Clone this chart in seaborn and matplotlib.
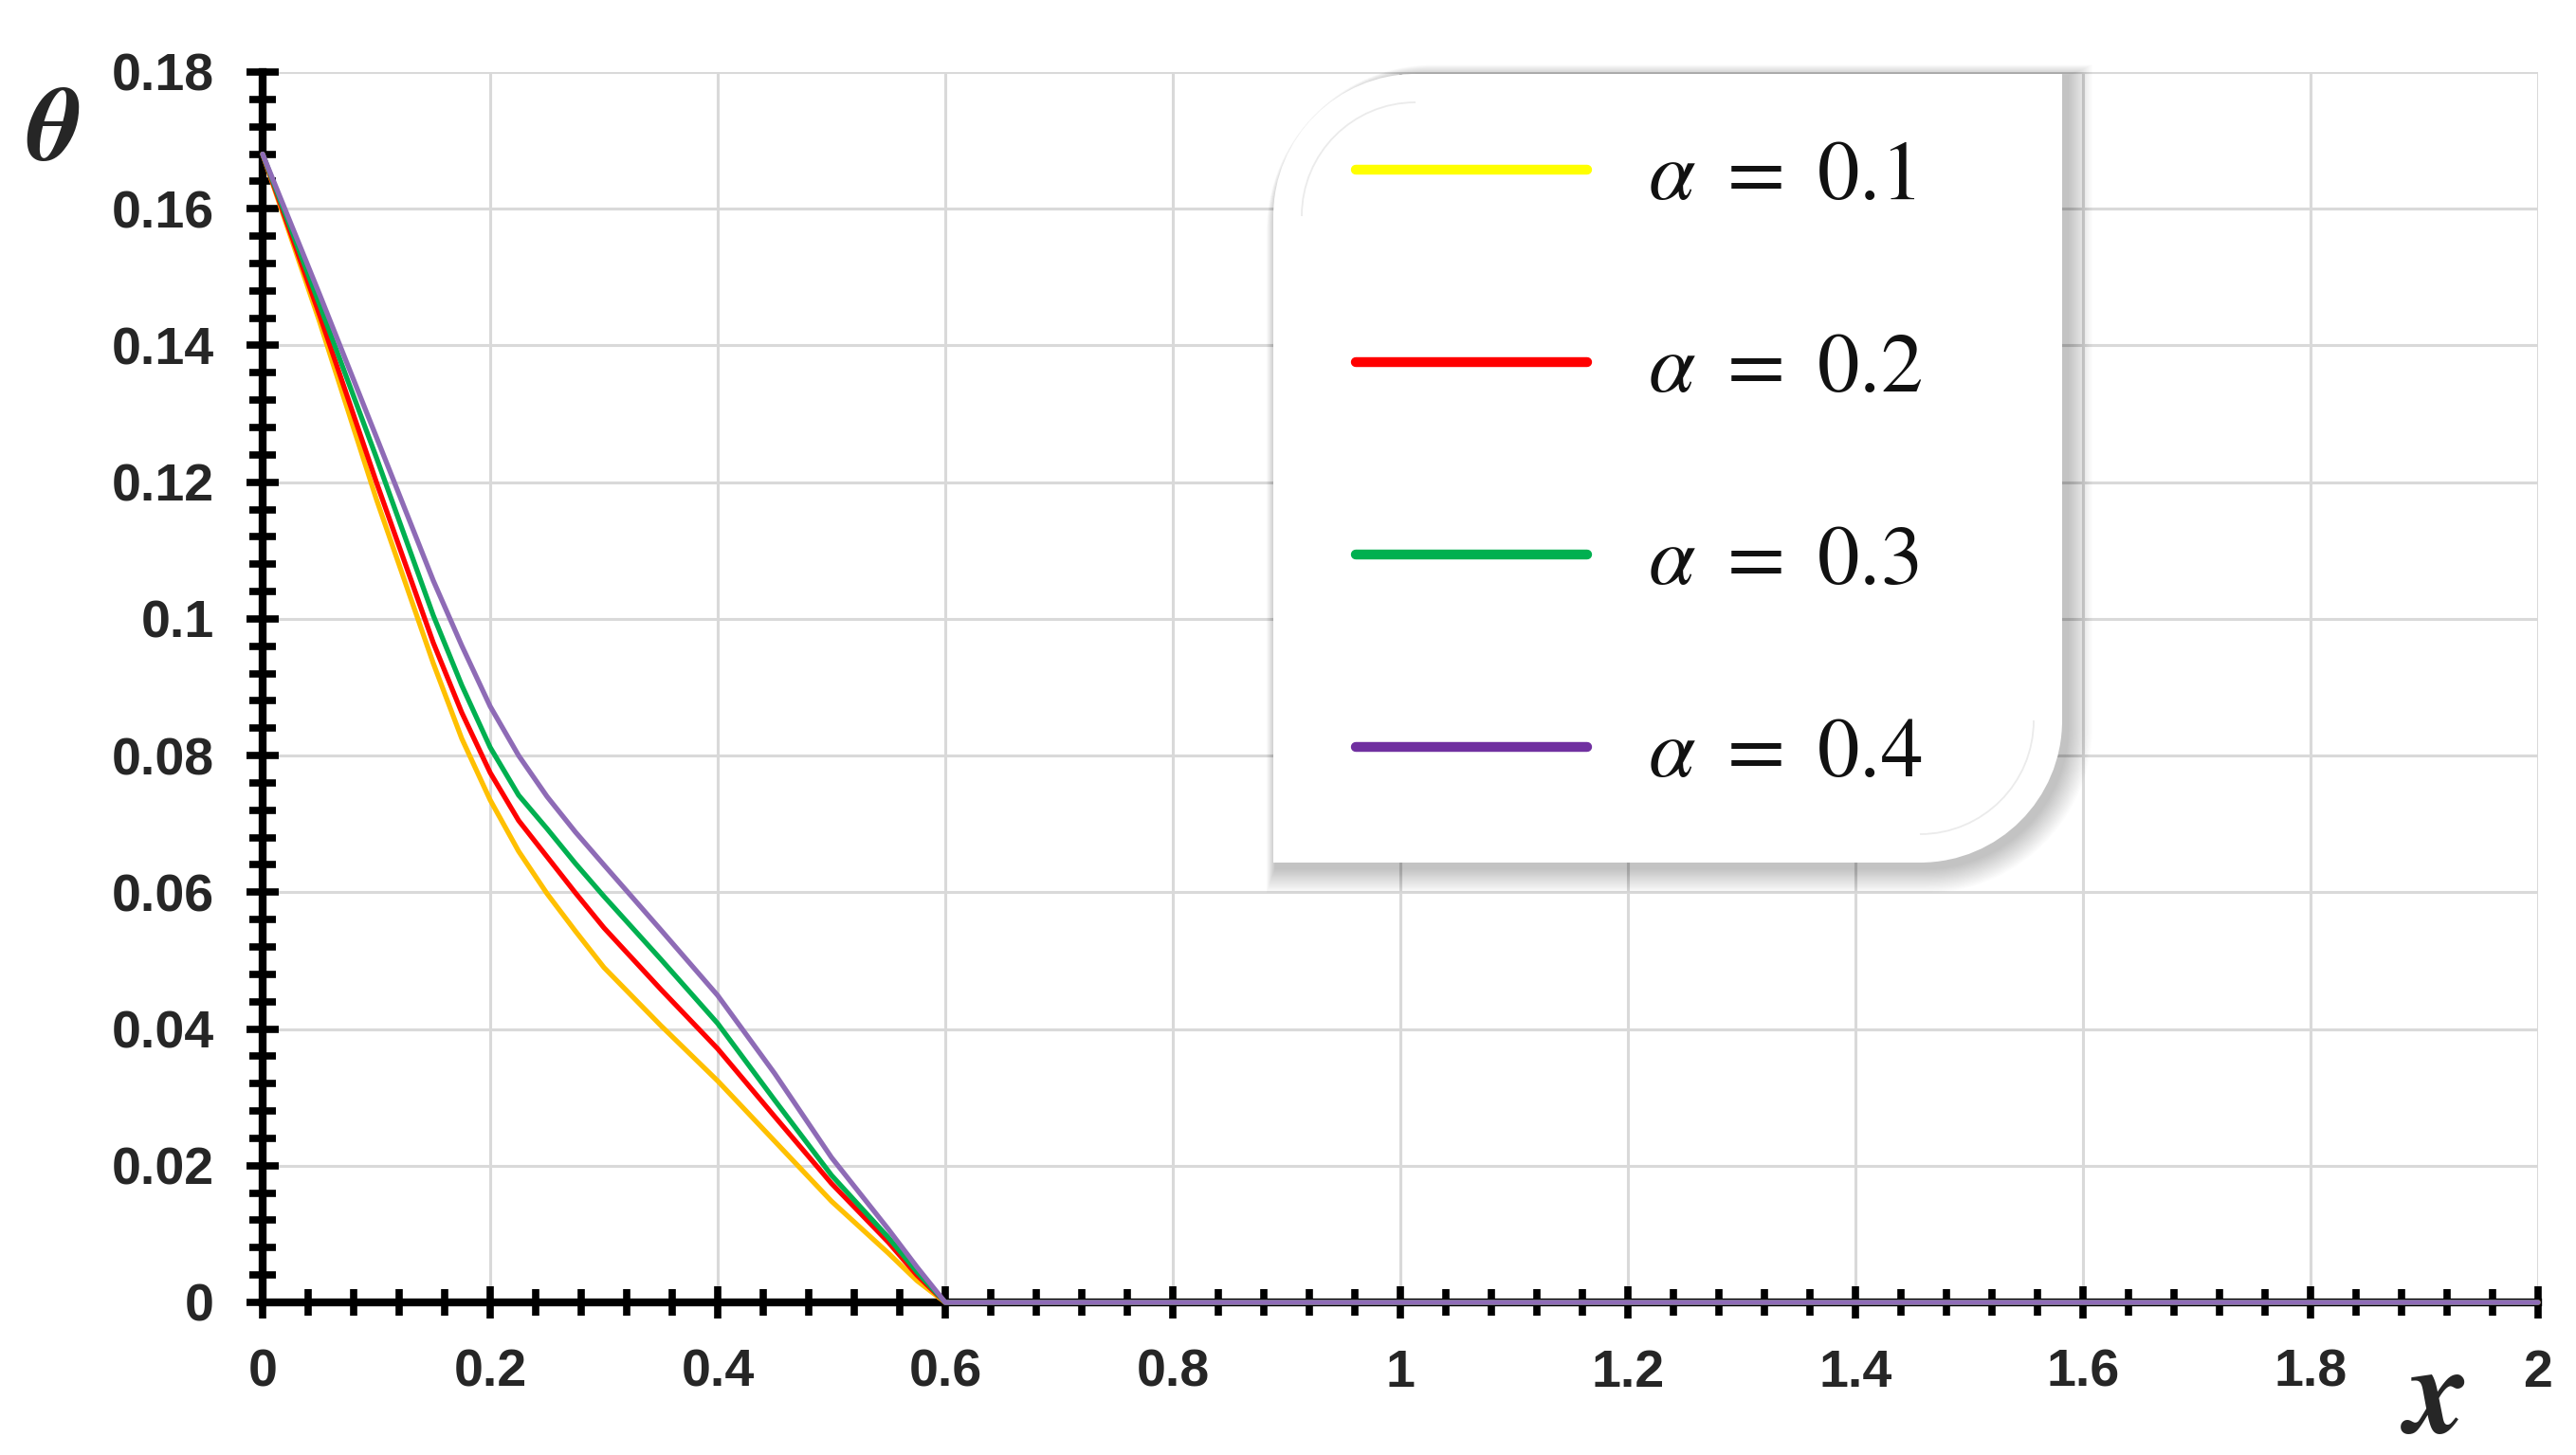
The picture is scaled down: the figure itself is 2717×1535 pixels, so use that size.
import numpy as np
import pandas as pd
import matplotlib
matplotlib.use("Agg")
import matplotlib.pyplot as plt
import seaborn as sns
from matplotlib import font_manager
from matplotlib.path import Path
from matplotlib.patches import PathPatch
from matplotlib.lines import Line2D
from matplotlib.ticker import MultipleLocator, FuncFormatter


# values
x_vals = [0, 0.05, 0.1, 0.15, 0.175, 0.2, 0.225, 0.25, 0.275, 0.3, 0.35, 0.4, 0.45, 0.5, 0.55, 0.575, 0.6, 1.0, 1.5, 2.0]
theta_a1 = [0.168, 0.1435, 0.1175, 0.0935, 0.0825, 0.0735, 0.0660, 0.0598, 0.0543, 0.0490, 0.0405, 0.0324, 0.0236, 0.0148, 0.0072, 0.0032, 0, 0, 0, 0]
theta_a2 = [0.168, 0.1445, 0.1200, 0.0965, 0.0863, 0.0775, 0.0705, 0.0652, 0.0599, 0.0548, 0.0458, 0.0371, 0.0272, 0.0174, 0.0088, 0.0040, 0, 0, 0, 0]
theta_a3 = [0.168, 0.1460, 0.1236, 0.1005, 0.0903, 0.0812, 0.0742, 0.0693, 0.0642, 0.0594, 0.0502, 0.0408, 0.0296, 0.0186, 0.0095, 0.0045, 0, 0, 0, 0]
theta_a4 = [0.168, 0.1475, 0.1266, 0.1056, 0.0961, 0.0872, 0.0800, 0.0740, 0.0688, 0.0640, 0.0545, 0.0449, 0.0335, 0.0212, 0.0107, 0.0052, 0, 0, 0, 0]

series_names = ["a=0.1", "a=0.2", "a=0.3", "a=0.4"]
legend_labels = [r"$\alpha\ =\ 0.1$", r"$\alpha\ =\ 0.2$", r"$\alpha\ =\ 0.3$", r"$\alpha\ =\ 0.4$"]
curve_colors = ["#FFC000", "#FF0000", "#00B050", "#8E6BB6"]
legend_colors = ["#FFFF00", "#FF0000", "#00B050", "#7030A0"]

W, H = 2717, 1535

df = pd.concat([
    pd.DataFrame({"x": x_vals, "theta": th, "series": name})
    for name, th in zip(series_names, [theta_a1, theta_a2, theta_a3, theta_a4])
])

sns.set_style("white")
names = {f.name for f in font_manager.fontManager.ttflist}
tick_font = "Liberation Sans Narrow" if "Liberation Sans Narrow" in names else "Liberation Sans"
plt.rcParams["font.family"] = [tick_font, "DejaVu Sans"]
plt.rcParams["mathtext.fontset"] = "stix"

fig = plt.figure(figsize=(W / 100, H / 100), dpi=100)
fig.patch.set_facecolor("white")
ax = fig.add_axes([277 / W, 1 - 1374 / H, 2400 / W, 1298 / H])

sns.lineplot(data=df, x="x", y="theta", hue="series", hue_order=series_names,
             palette=curve_colors, linewidth=3.8, legend=False, sort=False,
             estimator=None, ax=ax, zorder=4, clip_on=False)
for ln in ax.get_lines():
    ln.set_solid_joinstyle("round")

ax.set_xlim(0, 2)
ax.set_ylim(0, 0.18)
ax.xaxis.set_major_locator(MultipleLocator(0.2))
ax.xaxis.set_minor_locator(MultipleLocator(0.04))
ax.yaxis.set_major_locator(MultipleLocator(0.02))
ax.yaxis.set_minor_locator(MultipleLocator(0.004))
ax.xaxis.set_major_formatter(FuncFormatter(lambda v, p: f"{v:.1f}".rstrip("0").rstrip(".")))
ax.yaxis.set_major_formatter(FuncFormatter(lambda v, p: f"{v:.2f}".rstrip("0").rstrip(".")))

ax.grid(True, which="major", color="#D9D9D9", linewidth=2.2)
ax.set_axisbelow(True)
for s in ["top", "right"]:
    ax.spines[s].set_visible(False)
for s in ["left", "bottom"]:
    ax.spines[s].set_linewidth(6)
    ax.spines[s].set_color("black")
    ax.spines[s].set_zorder(3)

ax.tick_params(which="both", direction="inout", color="black", width=5.5,
               bottom=True, left=True, top=False, right=False)
ax.tick_params(which="major", length=24, labelsize=40)
ax.tick_params(which="minor", length=20)
ax.tick_params(axis="x", which="major", pad=23)
ax.tick_params(axis="y", which="major", pad=25)
for lab in ax.get_xticklabels() + ax.get_yticklabels():
    lab.set_fontweight("bold")
ax.set_xlabel("")
ax.set_ylabel("")

fig.text(56 / W, 1 - 142 / H, "θ", fontsize=80, ha="center", va="center",
         family="STIXGeneral", style="italic", weight="bold")
fig.text(2570 / W, 1 - 1478 / H, "x", fontsize=94, ha="center", va="center",
         family="STIXGeneral", style="italic", weight="bold")


def to_fig(pts):
    # pixel coords with y measured from the top -> figure fraction
    return [(px / W, 1 - py / H) for px, py in pts]


# legend box: rounded top-left and bottom-right corners with a soft shadow
def diag_round_box(x0, y0, x1, y1, r):
    k = 0.5523 * r
    verts = [
        (x0, y0 + r), (x0, y1),
        (x1 - r, y1), (x1 - r + k, y1), (x1, y1 - r + k), (x1, y1 - r),
        (x1, y0 + r), (x1, y0),
        (x0 + r, y0), (x0 + r - k, y0), (x0, y0 + r - k), (x0, y0 + r),
        (x0, y0 + r),
    ]
    codes = [Path.MOVETO, Path.LINETO,
             Path.LINETO, Path.CURVE4, Path.CURVE4, Path.CURVE4,
             Path.LINETO, Path.LINETO,
             Path.LINETO, Path.CURVE4, Path.CURVE4, Path.CURVE4,
             Path.CLOSEPOLY]
    return Path(to_fig(verts), codes)


def corner_arc(cx, cy, r, sx, sy):
    # quarter arc around (cx, cy); sx, sy give the quadrant
    k = 0.5523 * r
    verts = [(cx + sx * r, cy), (cx + sx * r, cy + sy * k), (cx + sx * k, cy + sy * r), (cx, cy + sy * r)]
    return Path(to_fig(verts), [Path.MOVETO, Path.CURVE4, Path.CURVE4, Path.CURVE4])


bx0, by0, bx1, by1, rad = 1343, 78, 2175, 910, 150
for i in range(20):
    d = 26 - i * 1.3
    shadow = PathPatch(diag_round_box(bx0 + 2 - d * 0.35, by0 + 2 - d * 0.45, bx1 + 6 + d, by1 + 6 + d, rad + d),
                       transform=fig.transFigure, facecolor="black", edgecolor="none",
                       alpha=0.012, zorder=5)
    fig.patches.append(shadow)
box = PathPatch(diag_round_box(bx0, by0, bx1, by1, rad), transform=fig.transFigure,
                facecolor="white", edgecolor="none", zorder=6)
fig.patches.append(box)
inset = 30
for cx, cy, sx, sy in [(bx0 + rad, by0 + rad, -1, -1), (bx1 - rad, by1 - rad, 1, 1)]:
    arc = PathPatch(corner_arc(cx, cy, rad - inset, sx, sy), transform=fig.transFigure,
                    facecolor="none", edgecolor="#EBEBEB", linewidth=1.3, zorder=6.5)
    fig.patches.append(arc)

handles = [Line2D([], [], color=c, linewidth=7.5) for c in legend_colors]
leg = fig.legend(handles, legend_labels, loc="upper left",
                 bbox_to_anchor=(1430 / W, 1 - 145 / H), bbox_transform=fig.transFigure,
                 frameon=False, fontsize=64, handlelength=2.75, handletextpad=0.72,
                 labelspacing=1.34, borderpad=0, borderaxespad=0)
leg.set_zorder(7)
for t in leg.get_texts():
    t.set_color("#111111")

fig.savefig("out.png", dpi=100, facecolor="white")
